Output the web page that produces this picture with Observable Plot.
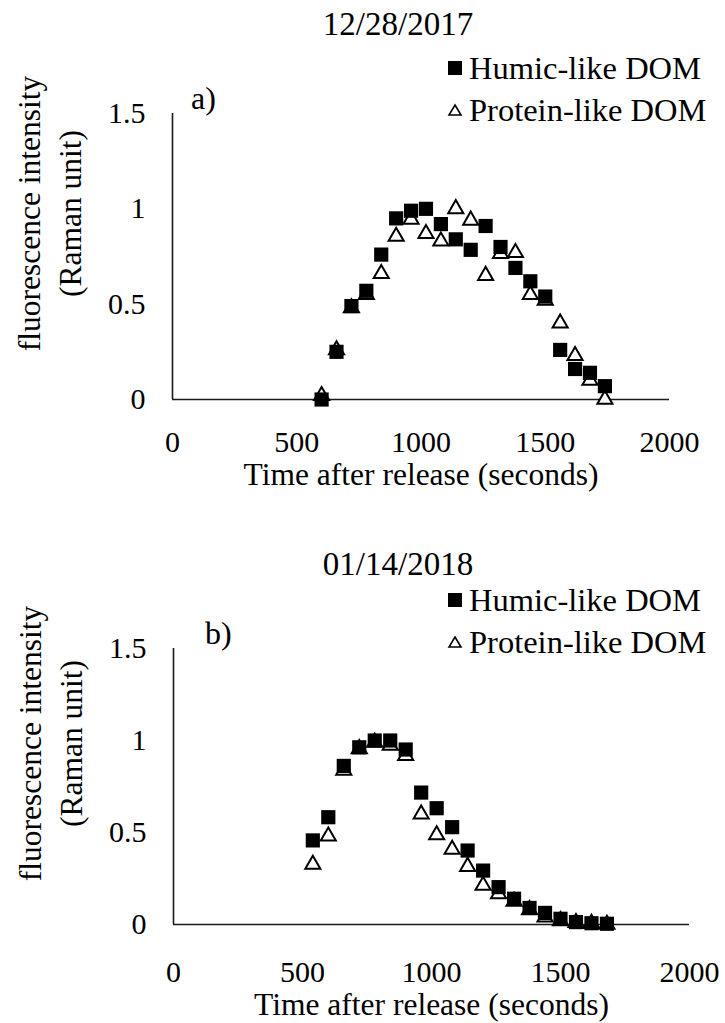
<!DOCTYPE html>
<html>
<head>
<meta charset="utf-8">
<script src="https://cdn.jsdelivr.net/npm/d3@7"></script>
<script src="https://cdn.jsdelivr.net/npm/@observablehq/plot@0.6"></script>
<style>
  html, body { margin: 0; padding: 0; background: #fff; }
  #page { position: relative; width: 725px; height: 1023px; font-family: "Liberation Serif", "Times New Roman", serif; color: #000; overflow: hidden; }
  .abs { position: absolute; white-space: nowrap; line-height: 1; }
  .title { font-size: 33px; transform: translateX(-50%); }
  .leg { font-size: 32.5px; display: flex; align-items: center; }
  .leg svg { margin-right: 6px; }
  .panel { font-size: 32px; }
  .chart { position: absolute; left: 0; }
</style>
</head>
<body>
<div id="page"></div>
<script>
// ---- data ----
const timeA = [600, 660, 720, 780, 840, 900, 960, 1020, 1080, 1140, 1200, 1260, 1320, 1380, 1440, 1500, 1560, 1620, 1680, 1740];
const humicA = [0.00, 0.25, 0.49, 0.57, 0.76, 0.95, 0.99, 1.00, 0.92, 0.84, 0.785, 0.91, 0.80, 0.69, 0.62, 0.54, 0.26, 0.16, 0.14, 0.07];
const proteinA = [0.02, 0.26, 0.48, 0.55, 0.66, 0.855, 0.945, 0.87, 0.83, 1.00, 0.94, 0.65, 0.765, 0.77, 0.55, 0.52, 0.40, 0.23, 0.10, 0.00];

const timeB = [540, 600, 660, 720, 780, 840, 900, 960, 1020, 1080, 1140, 1200, 1260, 1320, 1380, 1440, 1500, 1560, 1620, 1680];
const humicB = [0.457, 0.583, 0.862, 0.963, 1.00, 1.00, 0.951, 0.717, 0.632, 0.529, 0.402, 0.293, 0.203, 0.14, 0.09, 0.063, 0.031, 0.013, 0.007, 0.004];
const proteinB = [0.326, 0.48, 0.837, 0.955, 0.99, 0.973, 0.918, 0.60, 0.487, 0.408, 0.315, 0.212, 0.167, 0.125, 0.08, 0.04, 0.02, 0.01, 0.005, 0.0];

const xTicks = [0, 500, 1000, 1500, 2000];
const yTicks = [0, 0.5, 1, 1.5];
const seriesNames = ["Humic-like DOM", "Protein-like DOM"];
const titles = ["12/28/2017", "01/14/2018"];
const panelLabels = ["a)", "b)"];
const xLabel = "Time after release (seconds)";
const yLabel = "fluorescence intensity\n(Raman unit)";

// ---- helpers ----
const page = document.getElementById("page");
const FONT = "'Liberation Serif', 'Times New Roman', serif";
const AX = "#1a1a1a";

function rows(t, v) { return t.map((d, i) => ({t: d, v: v[i]})); }

function legendSvg(kind) {
  if (kind === "square") {
    return `<svg width="16" height="16" viewBox="0 0 16 16"><rect x="1" y="1" width="14" height="14" fill="#000"/></svg>`;
  }
  return `<svg width="16" height="16" viewBox="0 0 16 16"><path d="M8,3 L14,13 L2,13 Z" fill="#fff" stroke="#000" stroke-width="1.6"/></svg>`;
}

function addText(cls, text, left, top, extra) {
  const d = document.createElement("div");
  d.className = "abs " + cls;
  d.style.left = left + "px";
  d.style.top = top + "px";
  d.innerHTML = text;
  if (extra) Object.assign(d.style, extra);
  page.appendChild(d);
  return d;
}

function makeChart(opts) {
  const {top, height, mL, mR, mT, mB, time, humic, protein, yLabelDy, tickPad, labelOff} = opts;
  const hum = rows(time, humic);
  const pro = rows(time, protein);
  const chart = Plot.plot({
    width: 725,
    height,
    marginLeft: mL,
    marginRight: mR,
    marginTop: mT,
    marginBottom: mB,
    style: {fontFamily: FONT, fontSize: "30px", color: "#000", background: "transparent", overflow: "visible"},
    x: {domain: [0, 2000]},
    y: {domain: [0, 1.5]},
    marks: [
      Plot.axisX({ticks: xTicks, tickSize: 0, tickPadding: tickPad, fontSize: 30, label: null, tickFormat: d => String(d)}),
      Plot.axisY({ticks: yTicks, tickSize: 0, tickPadding: 27, fontSize: 30, label: null, tickFormat: d => String(d)}),
      Plot.axisX({ticks: [], tickSize: 0, label: xLabel, labelAnchor: "center", labelArrow: "none", labelOffset: labelOff, fontSize: 31.5}),
      Plot.text([yLabel], {frameAnchor: "left", text: d => d, rotate: -90, textAnchor: "middle", lineAnchor: "middle", dx: -125, dy: yLabelDy, lineHeight: 1.28, fontSize: 31.5, fill: "#000"}),
      Plot.ruleY([0], {stroke: AX, strokeWidth: 1.6}),
      Plot.ruleX([0], {stroke: AX, strokeWidth: 1.6}),
      Plot.dot(pro, {x: "t", y: "v", symbol: "triangle", r: 5.6, fill: "#fff", stroke: "#000", strokeWidth: 2}),
      Plot.dot(hum, {x: "t", y: "v", symbol: "square", r: 8, fill: "#000", stroke: "none"})
    ]
  });
  chart.classList.add("chart");
  chart.style.top = top + "px";
  page.appendChild(chart);
}

// ---- chart a ----
makeChart({top: 0, height: 500, mL: 172, mR: 56, mT: 113, mB: 101, time: timeA, humic: humicA, protein: proteinA, yLabelDy: -43, tickPad: 31, labelOff: 85});
addText("title", titles[0], 398, 8);
addText("panel", panelLabels[0], 191, 82);
addText("leg", legendSvg("square") + seriesNames[0], 447, 52);
addText("leg", legendSvg("triangle") + seriesNames[1], 447, 94);

// ---- chart b ----
makeChart({top: 520, height: 503, mL: 173, mR: 36, mT: 128, mB: 99, time: timeB, humic: humicB, protein: proteinB, yLabelDy: -43, tickPad: 36, labelOff: 90});
addText("title", titles[1], 398, 548);
addText("panel", panelLabels[1], 205, 617);
addText("leg", legendSvg("square") + seriesNames[0], 447, 584);
addText("leg", legendSvg("triangle") + seriesNames[1], 447, 626);
</script>
</body>
</html>
